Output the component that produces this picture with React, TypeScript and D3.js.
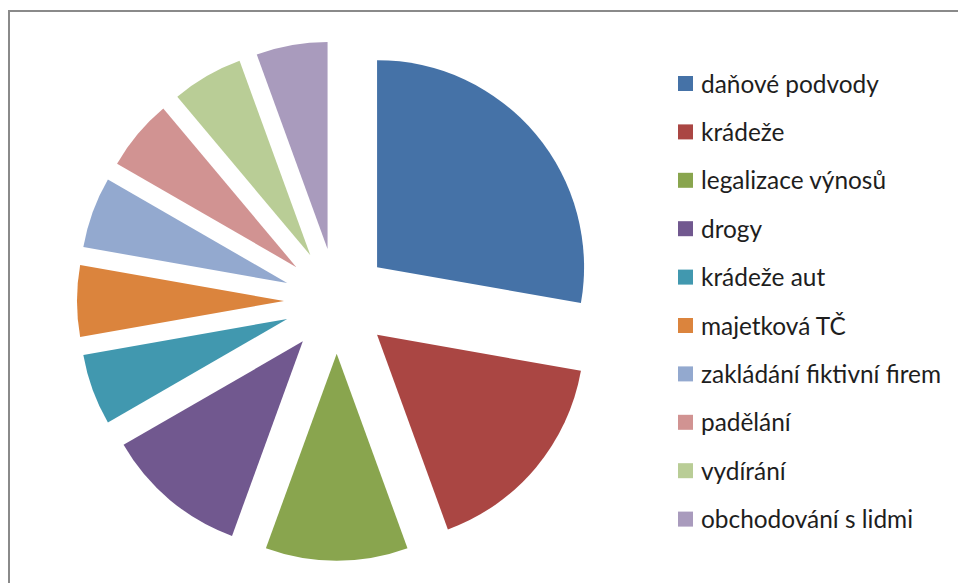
import * as d3 from 'd3'
import { useEffect, useRef } from 'react'

const categories = [
  'daňové podvody',
  'krádeže',
  'legalizace výnosů',
  'drogy',
  'krádeže aut',
  'majetková TČ',
  'zakládání fiktivní firem',
  'padělání',
  'vydírání',
  'obchodování s lidmi',
]
const values = [5, 3, 2, 2, 1, 1, 1, 1, 1, 1]
const colors = [
  '#4572A7',
  '#AA4643',
  '#89A54E',
  '#71588F',
  '#4198AF',
  '#DB843D',
  '#93A9CF',
  '#D19392',
  '#B9CD96',
  '#A99BBD',
]

const W = 958
const H = 583

const App = () => {
  const ref = useRef<SVGSVGElement>(null)

  useEffect(() => {
    const svg = d3.select(ref.current)
    svg.selectAll('*').remove()

    // frame (runs off the right and bottom edge)
    svg
      .append('rect')
      .attr('x', 9)
      .attr('y', 11)
      .attr('width', W)
      .attr('height', H)
      .attr('fill', 'white')
      .attr('stroke', '#8a8a8a')
      .attr('stroke-width', 2)

    const cx = 336.7
    const cy = 301
    const r = 207
    const explode = 52.7

    const pie = d3
      .pie<number>()
      .sort(null)
      .value((d) => d)
    const arc = d3.arc<d3.PieArcDatum<number>>().innerRadius(0).outerRadius(r)

    const g = svg.append('g').attr('transform', `translate(${cx},${cy})`)

    g.selectAll('path')
      .data(pie(values))
      .enter()
      .append('path')
      .attr('d', arc)
      .attr('fill', (_d, i) => colors[i])
      .attr('transform', (d) => {
        const a = (d.startAngle + d.endAngle) / 2
        return `translate(${explode * Math.sin(a)},${-explode * Math.cos(a)})`
      })

    // legend
    const legend = svg.append('g')
    const rowY = (i: number) => 83.5 + i * 48.4
    const item = legend
      .selectAll('g')
      .data(categories)
      .enter()
      .append('g')
      .attr('transform', (_d, i) => `translate(0,${rowY(i)})`)

    item
      .append('rect')
      .attr('x', 678)
      .attr('y', -7.5)
      .attr('width', 15)
      .attr('height', 15)
      .attr('fill', (_d, i) => colors[i])

    const texts = item
      .append('text')
      .attr('x', 701)
      .attr('y', 9)
      .attr('font-family', 'Lato, "Open Sans", sans-serif')
      .attr('font-size', 24)
      .attr('fill', '#1e1e1e')
      .text((d) => d)

    // fit the font size so the first label spans the same width as the original
    const first = texts.node() as SVGTextElement | null
    if (first) {
      const len = first.getComputedTextLength()
      if (len > 0) texts.attr('font-size', (24 * 178) / len)
    }
  }, [])

  return (
    <svg
      ref={ref}
      width={W}
      height={H}
      style={{ position: 'absolute', left: 0, top: 0 }}
    />
  )
}

export default App
